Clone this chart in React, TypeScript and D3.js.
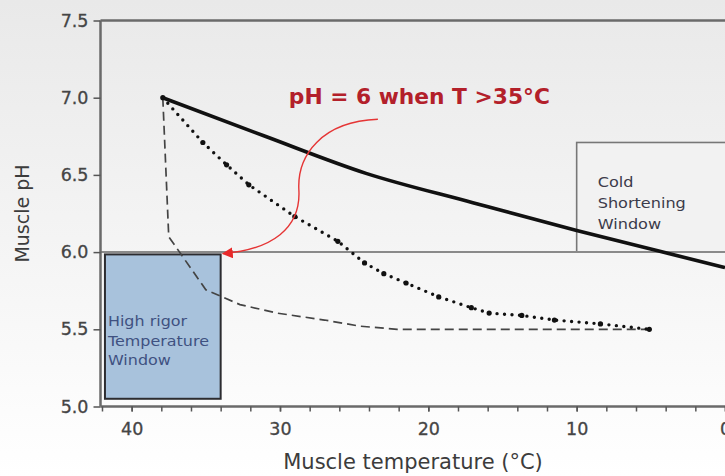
import React, {useEffect, useRef} from 'react'
import * as d3 from 'd3'

// solid line
const solidTemp = [37.9, 31, 24.2, 17, 10, 4.6, 0]
const solidPH = [7.0, 6.75, 6.51, 6.32, 6.14, 6.01, 5.9]

// dotted line
const dottedTemp = [37.9, 35.2, 33.6, 32.1, 29.0, 26.1, 24.3, 23.0, 21.5, 19.3, 17.1, 15.9, 13.7, 11.5, 8.4, 5.1]
const dottedPH = [7.0, 6.71, 6.565, 6.436, 6.23, 6.07, 5.93, 5.86, 5.8, 5.71, 5.64, 5.605, 5.59, 5.56, 5.535, 5.5]

// dashed line
const dashedTemp = [37.9, 37.5, 35.0, 32.7, 30.2, 27.0, 24.6, 22.1, 5.2]
const dashedPH = [7.0, 6.1, 5.756, 5.66, 5.605, 5.56, 5.52, 5.5, 5.5]

// windows
const rigorTemp = [41.8, 34.0]
const rigorPH = [5.05, 5.985]
const rigorLabel = ['High rigor', 'Temperature', 'Window']
const coldTemp = [10, -3]
const coldPH = [6.0, 6.71]
const coldLabel = ['Cold', 'Shortening', 'Window']

const xTicks = [40, 30, 20, 10, 0]
const xMinorTicks = d3.range(0, 43, 2)
const yTicks = [5.0, 5.5, 6.0, 6.5, 7.0, 7.5]

const annotation = 'pH = 6 when T >35°C'
const annotationAt = [29.4, 6.96]
const arrowFrom = [23.4, 6.86]
const arrowTo = [33.85, 5.99]

const W = 725
const H = 476

const App = () => {
  const ref = useRef(null)

  useEffect(() => {
    const svg = d3.select(ref.current)
    svg.selectAll('*').remove()
    svg.attr('viewBox', [0, 0, W, H])
      .attr('font-family', '"DejaVu Sans", sans-serif')

    const x = d3.scaleLinear().domain([42.1, 0]).range([100.5, 725])
    const y = d3.scaleLinear().domain([5, 7.5]).range([406.5, 20.5])

    const defs = svg.append('defs')
    const grad = defs.append('linearGradient').attr('id', 'bg')
      .attr('x1', 0).attr('y1', 0).attr('x2', 0).attr('y2', 1)
    grad.append('stop').attr('offset', 0).attr('stop-color', '#e9e9e9')
    grad.append('stop').attr('offset', 1).attr('stop-color', '#ffffff')
    defs.append('marker').attr('id', 'arrow')
      .attr('viewBox', '0 0 10 10')
      .attr('refX', 9).attr('refY', 5)
      .attr('markerWidth', 11).attr('markerHeight', 11)
      .attr('markerUnits', 'userSpaceOnUse')
      .attr('orient', 'auto')
      .append('path').attr('d', 'M0,0 L10,5 L0,10 z').attr('fill', '#e82a2a')

    svg.append('rect').attr('width', W).attr('height', H).attr('fill', 'url(#bg)')

    // cold shortening window
    svg.append('rect')
      .attr('x', x(coldTemp[0])).attr('y', y(coldPH[1]))
      .attr('width', x(coldTemp[1]) - x(coldTemp[0]))
      .attr('height', y(coldPH[0]) - y(coldPH[1]))
      .attr('fill', '#f2f2f2').attr('stroke', '#777').attr('stroke-width', 1.6)
    svg.append('g').selectAll('text').data(coldLabel).join('text')
      .attr('transform', (d, i) => `translate(${x(coldTemp[0]) + 21},${y(coldPH[1]) + 45 + i * 21}) scale(1.15,1)`)
      .attr('font-size', 14).attr('fill', '#3b3b4a')
      .text(d => d)

    // pH 6 line
    svg.append('line')
      .attr('x1', x(42.1)).attr('x2', W)
      .attr('y1', y(6)).attr('y2', y(6))
      .attr('stroke', '#8a8a8a').attr('stroke-width', 2)

    // high rigor window
    svg.append('rect')
      .attr('x', x(rigorTemp[0])).attr('y', y(rigorPH[1]))
      .attr('width', x(rigorTemp[1]) - x(rigorTemp[0]))
      .attr('height', y(rigorPH[0]) - y(rigorPH[1]))
      .attr('fill', '#a8c2dc').attr('stroke', '#2c2c30').attr('stroke-width', 2)
    svg.append('g').selectAll('text').data(rigorLabel).join('text')
      .attr('transform', (d, i) => `translate(${x(rigorTemp[0]) + 3},${y(rigorPH[1]) + 72 + i * 19.5}) scale(1.14,1)`)
      .attr('font-size', 14).attr('fill', '#3f5181')
      .text(d => d)

    // axes
    const xAxis = svg.append('g').attr('transform', `translate(0,${y(5)})`)
      .call(d3.axisBottom(x).tickValues(xTicks).tickSize(5).tickPadding(11).tickFormat(d3.format('d')))
    const xMinor = svg.append('g').attr('transform', `translate(0,${y(5)})`)
      .call(d3.axisBottom(x).tickValues(xMinorTicks).tickSize(5).tickFormat(() => ''))
    xMinor.select('.domain').remove()
    const yAxis = svg.append('g').attr('transform', `translate(${x(42.1)},0)`)
      .call(d3.axisLeft(y).tickValues(yTicks).tickSize(7).tickPadding(5).tickFormat(d3.format('.1f')))
    ;[xAxis, xMinor, yAxis].forEach(g => {
      g.select('.domain').attr('stroke', '#6a6a6a').attr('stroke-width', 2.5)
      g.selectAll('.tick line').attr('stroke', '#555').attr('stroke-width', 1.5)
      g.selectAll('.tick text').attr('font-size', 17.5).attr('fill', '#454545')
        .attr('font-family', '"DejaVu Sans", sans-serif')
        .attr('stroke', '#454545').attr('stroke-width', 0.3)
    })
    xAxis.select('.domain').attr('d', `M${x(42.1)},0H${W}`)
    yAxis.select('.domain').attr('d', `M0,${y(5)}V${y(7.5)}`)

    // top frame
    svg.append('line')
      .attr('x1', x(42.1)).attr('x2', W)
      .attr('y1', y(7.5)).attr('y2', y(7.5))
      .attr('stroke', '#6a6a6a').attr('stroke-width', 2.5)

    // axis titles
    svg.append('text')
      .attr('x', 413).attr('y', 469)
      .attr('text-anchor', 'middle').attr('font-size', 21).attr('fill', '#3c3c3c')
      .text('Muscle temperature (°C)')
    svg.append('text')
      .attr('transform', `translate(29,${(y(5) + y(7.5)) / 2}) rotate(-90)`)
      .attr('text-anchor', 'middle').attr('font-size', 19).attr('fill', '#3c3c3c')
      .text('Muscle pH')

    const lineOf = (temps, phs) => d3.line()
      .x((d, i) => x(temps[i]))
      .y((d, i) => y(phs[i]))(temps)

    // dashed series
    svg.append('path')
      .attr('d', lineOf(dashedTemp, dashedPH))
      .attr('fill', 'none').attr('stroke', '#444').attr('stroke-width', 1.7)
      .attr('stroke-dasharray', '9 5')

    // dotted series
    svg.append('path')
      .attr('d', lineOf(dottedTemp, dottedPH))
      .attr('fill', 'none').attr('stroke', '#111').attr('stroke-width', 3.4)
      .attr('stroke-linecap', 'round').attr('stroke-dasharray', '0 7.5')
    svg.append('g').selectAll('circle').data(dottedTemp).join('circle')
      .attr('cx', d => x(d))
      .attr('cy', (d, i) => y(dottedPH[i]))
      .attr('r', 2.6).attr('fill', '#111')

    // solid series
    svg.append('path')
      .attr('d', d3.line().curve(d3.curveMonotoneX)
        .x((d, i) => x(solidTemp[i]))
        .y((d, i) => y(solidPH[i]))(solidTemp))
      .attr('fill', 'none').attr('stroke', '#111').attr('stroke-width', 3.6)
      .attr('stroke-linejoin', 'round')

    // annotation
    const sx = x(arrowFrom[0]), sy = y(arrowFrom[1])
    const ex = x(arrowTo[0]), ey = y(arrowTo[1])
    const path = d3.path()
    path.moveTo(sx, sy)
    path.bezierCurveTo(sx - 56, sy + 2, sx - 81, sy + 36, sx - 79, sy + 71)
    path.bezierCurveTo(sx - 77, sy + 109, sx - 106, ey - 4, ex, ey)
    svg.append('path').attr('d', path.toString())
      .attr('fill', 'none').attr('stroke', '#e53535').attr('stroke-width', 1.4)
      .attr('marker-end', 'url(#arrow)')
    svg.append('text')
      .attr('x', x(annotationAt[0])).attr('y', y(annotationAt[1]))
      .attr('font-size', 21).attr('font-weight', 'bold').attr('fill', '#b3202a')
      .attr('textLength', 261).attr('lengthAdjust', 'spacingAndGlyphs')
      .text(annotation)
  }, [])

  return <svg ref={ref} width={W} height={H}
    style={{position: 'absolute', left: 0, top: 0, display: 'block'}} />
}

export default App
